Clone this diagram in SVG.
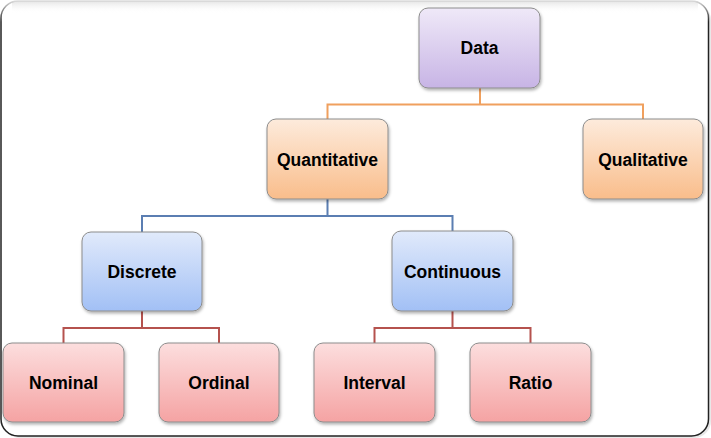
<svg xmlns="http://www.w3.org/2000/svg" width="711" height="438" viewBox="0 0 711 438">
<defs>
<linearGradient id="gPurple" x1="0" y1="0" x2="0" y2="1"><stop offset="0" stop-color="#efe9f8"/><stop offset="1" stop-color="#c7b4e5"/></linearGradient>
<linearGradient id="gOrange" x1="0" y1="0" x2="0" y2="1"><stop offset="0" stop-color="#fdebdc"/><stop offset="1" stop-color="#f9bd8b"/></linearGradient>
<linearGradient id="gBlue" x1="0" y1="0" x2="0" y2="1"><stop offset="0" stop-color="#e1eafb"/><stop offset="1" stop-color="#a2c0f5"/></linearGradient>
<linearGradient id="gRed" x1="0" y1="0" x2="0" y2="1"><stop offset="0" stop-color="#fcdede"/><stop offset="1" stop-color="#f5a3a3"/></linearGradient>
<linearGradient id="gBorder" gradientUnits="userSpaceOnUse" x1="0" y1="0" x2="0" y2="22"><stop offset="0" stop-color="#e2e2e2"/><stop offset="1" stop-color="#222222"/></linearGradient>
<linearGradient id="gTopShade" x1="0" y1="0" x2="0" y2="1"><stop offset="0" stop-color="#e4e4e4"/><stop offset="1" stop-color="#ffffff" stop-opacity="0"/></linearGradient>
<filter id="sh" x="-10%" y="-10%" width="130%" height="130%"><feDropShadow dx="1" dy="2" stdDeviation="1.5" flood-color="#000" flood-opacity="0.3"/></filter>
</defs>
<style>
.box{stroke:#8c8c8c;stroke-width:1;filter:url(#sh)}
.lbl{font-family:"Liberation Sans",Arial,sans-serif;font-weight:bold;font-size:17.5px;fill:#000;text-anchor:middle}
.c{fill:none;stroke-width:2}
.co{stroke:#f0a05e}
.cb{stroke:#5b7eb2}
.cr{stroke:#b5524e}
</style>
<rect x="0" y="0" width="711" height="438" fill="#ffffff"/>
<rect x="3" y="3" width="708" height="435" rx="17" fill="#d8d8d8" opacity="0.6"/>
<rect x="1" y="1" width="707.5" height="435" rx="17" fill="#ffffff"/>
<rect x="12" y="1" width="686" height="12" fill="url(#gTopShade)"/>
<rect x="1" y="1" width="707.5" height="435" rx="17" fill="none" stroke="url(#gBorder)" stroke-width="1.5"/>
<g id="connectors">
<path class="c co" d="M480 88V104.5M327.5 119V104.5H643V119"/>
<path class="c cb" d="M327.5 199V216M142 232V216H452.5V231"/>
<path class="c cr" d="M142 311V328M63.5 343V328H219V343"/>
<path class="c cr" d="M452.5 311V328M374.5 343V328H530.5V343"/>
</g>
<g id="data"><rect class="box" x="419" y="8" width="121" height="80" rx="9" fill="url(#gPurple)"/><text class="lbl" x="479.5" y="54">Data</text></g>
<g id="quantitative"><rect class="box" x="267" y="119" width="121" height="80" rx="9" fill="url(#gOrange)"/><text class="lbl" x="327.5" y="165.5">Quantitative</text></g>
<g id="qualitative"><rect class="box" x="583" y="119" width="120" height="80" rx="9" fill="url(#gOrange)"/><text class="lbl" x="643" y="165.5">Qualitative</text></g>
<g id="discrete"><rect class="box" x="82" y="232" width="120" height="79" rx="9" fill="url(#gBlue)"/><text class="lbl" x="142" y="277.5">Discrete</text></g>
<g id="continuous"><rect class="box" x="392" y="231" width="121" height="80" rx="9" fill="url(#gBlue)"/><text class="lbl" x="452.5" y="277.5">Continuous</text></g>
<g id="nominal"><rect class="box" x="3" y="343" width="121" height="79" rx="9" fill="url(#gRed)"/><text class="lbl" x="63.5" y="389">Nominal</text></g>
<g id="ordinal"><rect class="box" x="159" y="343" width="120" height="79" rx="9" fill="url(#gRed)"/><text class="lbl" x="219" y="389">Ordinal</text></g>
<g id="interval"><rect class="box" x="314" y="343" width="121" height="79" rx="9" fill="url(#gRed)"/><text class="lbl" x="374.5" y="389">Interval</text></g>
<g id="ratio"><rect class="box" x="470" y="343" width="121" height="79" rx="9" fill="url(#gRed)"/><text class="lbl" x="530.5" y="389">Ratio</text></g>
</svg>
